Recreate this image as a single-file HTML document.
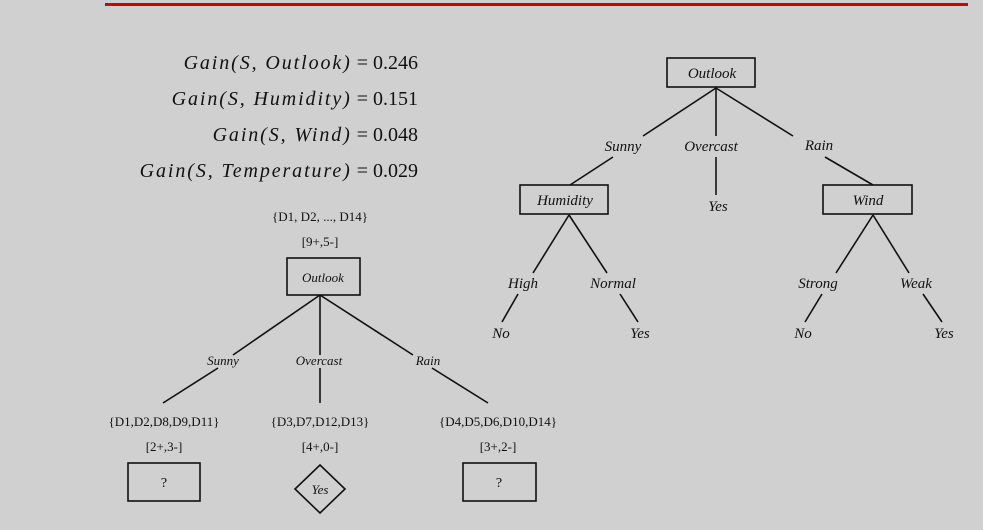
<!DOCTYPE html>
<html><head><meta charset="utf-8"><style>
html,body{margin:0;padding:0;background:#d0d0d0;}
svg{display:block;}
text{font-family:"Liberation Serif",serif;fill:#111;}
.i{font-style:italic;}
</style></head><body>
<svg width="983" height="530" viewBox="0 0 983 530" xmlns="http://www.w3.org/2000/svg">
<rect width="983" height="530" fill="#d0d0d0"/>
<line x1="105" y1="4.5" x2="968" y2="4.5" stroke="#cc0000" stroke-width="3"/>
<g font-size="20" text-anchor="end">
<text x="418" y="69"><tspan class="i" letter-spacing="1.9">Gain(S, Outlook)</tspan> = 0.246</text>
<text x="418" y="105"><tspan class="i" letter-spacing="1.9">Gain(S, Humidity)</tspan> = 0.151</text>
<text x="418" y="141"><tspan class="i" letter-spacing="1.9">Gain(S, Wind)</tspan> = 0.048</text>
<text x="418" y="177"><tspan class="i" letter-spacing="1.9">Gain(S, Temperature)</tspan> = 0.029</text>
</g>
<g stroke="#111" stroke-width="1.6" fill="none">
<rect x="287" y="258" width="73" height="37"/>
<line x1="320" y1="295" x2="233" y2="355"/><line x1="218" y1="368" x2="163" y2="403"/>
<line x1="320" y1="295" x2="320" y2="355"/><line x1="320" y1="368" x2="320" y2="403"/>
<line x1="320" y1="295" x2="413" y2="355"/><line x1="432" y1="368" x2="488" y2="403"/>
<rect x="128" y="463" width="72" height="38"/>
<rect x="463" y="463" width="73" height="38"/>
<polygon points="320,465 345,489 320,513 295,489"/>
<rect x="667" y="58" width="88" height="29"/>
<line x1="716" y1="88" x2="643" y2="136"/><line x1="613" y1="157" x2="570" y2="185"/>
<line x1="716" y1="88" x2="716" y2="136"/><line x1="716" y1="157" x2="716" y2="195"/>
<line x1="716" y1="88" x2="793" y2="136"/><line x1="825" y1="157" x2="873" y2="185"/>
<rect x="520" y="185" width="88" height="29"/>
<rect x="823" y="185" width="89" height="29"/>
<line x1="569" y1="215" x2="533" y2="273"/><line x1="569" y1="215" x2="607" y2="273"/>
<line x1="518" y1="294" x2="502" y2="322"/><line x1="620" y1="294" x2="638" y2="322"/>
<line x1="873" y1="215" x2="836" y2="273"/><line x1="873" y1="215" x2="909" y2="273"/>
<line x1="822" y1="294" x2="805" y2="322"/><line x1="923" y1="294" x2="942" y2="322"/>
</g>
<g text-anchor="middle">
<g font-size="13">
<text x="320" y="221">{D1, D2, ..., D14}</text>
<text x="320" y="246">[9+,5-]</text>
<text x="164" y="426">{D1,D2,D8,D9,D11}</text>
<text x="164" y="451">[2+,3-]</text>
<text x="320" y="426">{D3,D7,D12,D13}</text>
<text x="320" y="451">[4+,0-]</text>
<text x="498" y="426">{D4,D5,D6,D10,D14}</text>
<text x="498" y="451">[3+,2-]</text>
</g>
<text x="164" y="487" font-size="14">?</text>
<text x="499" y="487" font-size="14">?</text>
<g class="i" font-size="13">
<text x="323" y="282">Outlook</text>
<text x="223" y="365">Sunny</text>
<text x="319" y="365">Overcast</text>
<text x="428" y="365">Rain</text>
<text x="320" y="494">Yes</text>
</g>
<g class="i" font-size="15">
<text x="712" y="78">Outlook</text>
<text x="623" y="151">Sunny</text>
<text x="711" y="151">Overcast</text>
<text x="819" y="150">Rain</text>
<text x="718" y="211">Yes</text>
<text x="565" y="205">Humidity</text>
<text x="868" y="205">Wind</text>
<text x="523" y="288">High</text>
<text x="613" y="288">Normal</text>
<text x="818" y="288">Strong</text>
<text x="916" y="288">Weak</text>
<text x="501" y="338">No</text>
<text x="640" y="338">Yes</text>
<text x="803" y="338">No</text>
<text x="944" y="338">Yes</text>
</g>
</g>
</svg>
</body></html>
